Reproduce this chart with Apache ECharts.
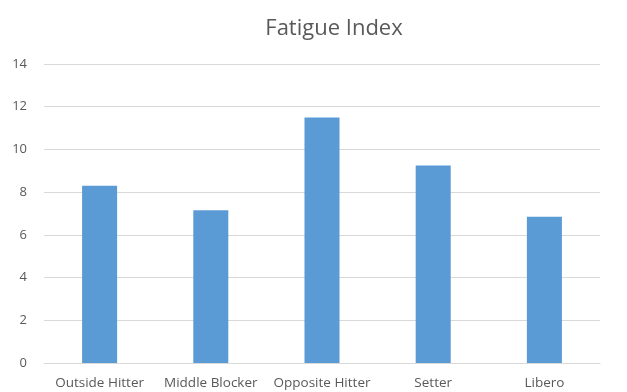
<!DOCTYPE html>
<html>
<head>
<meta charset="utf-8">
<script src="https://cdn.jsdelivr.net/npm/echarts@6/dist/echarts.min.js"></script>
<style>
  html, body { margin: 0; padding: 0; background: #fff; }
  #chart { width: 627px; height: 392px; }
</style>
</head>
<body>
<div id="chart"></div>
<script>
// data
const categories = ['Outside Hitter', 'Middle Blocker', 'Opposite Hitter', 'Setter', 'Libero']
const fatigueValues = [8.3, 7.15, 11.5, 9.25, 6.85]
const yTicks = [0, 2, 4, 6, 8, 10, 12, 14]

const chart = echarts.init(document.getElementById('chart'))
const font = '"Open Sans", "Liberation Sans", sans-serif'

chart.setOption({
  animation: false,
  title: {
    text: 'Fatigue Index',
    left: 329,
    textAlign: 'center',
    top: 13,
    textStyle: { fontFamily: font, fontSize: 22, fontWeight: 'normal', color: '#595959' }
  },
  grid: { left: 44, right: 27, top: 64, bottom: 29 },
  xAxis: {
    type: 'category',
    data: categories,
    axisLine: { lineStyle: { color: '#d9d9d9' } },
    axisTick: { show: false },
    axisLabel: { fontFamily: font, fontSize: 13.5, color: '#595959', margin: 13, interval: 0 }
  },
  yAxis: {
    type: 'value',
    min: yTicks[0],
    max: yTicks[yTicks.length - 1],
    interval: 2,
    axisLine: { show: false },
    axisTick: { show: false },
    splitLine: { lineStyle: { color: '#d9d9d9' } },
    axisLabel: { fontFamily: font, fontSize: 13, color: '#595959', margin: 17 }
  },
  series: [{
    type: 'bar',
    data: fatigueValues,
    barWidth: '31.5%',
    itemStyle: { color: '#5b9bd5' }
  }]
})
</script>
</body>
</html>
